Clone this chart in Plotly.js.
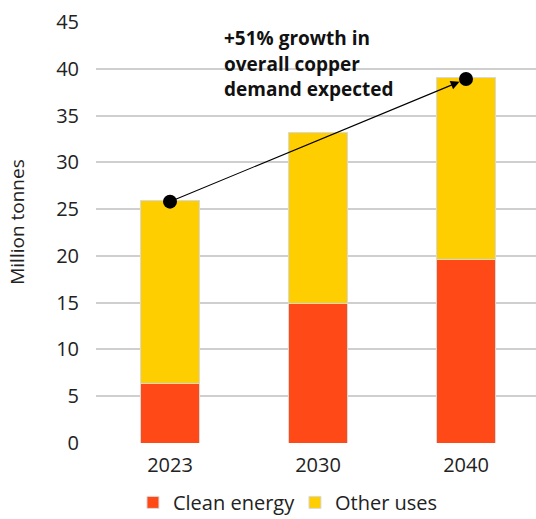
<!DOCTYPE html>
<html>
<head>
<meta charset="utf-8">
<script src="https://cdn.plot.ly/plotly-3.0.1.min.js"></script>
<style>html,body{margin:0;padding:0;background:#fff;}#chart{width:536px;height:519px;}</style>
</head>
<body>
<div id="chart"></div>
<script>
const categories = ["2023", "2030", "2040"];
const cleanEnergy = [6.4, 14.9, 19.6];
const otherUses = [19.5, 18.3, 19.5];
const growthPoints = ["2023", "2040"];
const growthValues = [25.8, 38.9];
const annotationLines = ["+51% growth in", "overall copper", "demand expected"];
const yTicks = [0, 5, 10, 15, 20, 25, 30, 35, 40, 45];
const yTitle = "Million tonnes";

const FONT = "Open Sans, sans-serif";
const ORANGE = "#FF4A17";
const YELLOW = "#FFCE00";

const traces = [
  {
    type: "bar", name: "Clean energy", x: categories, y: cleanEnergy,
    marker: {color: ORANGE, line: {color: "#d9d9d9", width: 1}},
    hoverinfo: "skip"
  },
  {
    type: "bar", name: "Other uses", x: categories, y: otherUses,
    marker: {color: YELLOW, line: {color: "#d9d9d9", width: 1}},
    hoverinfo: "skip"
  },
  {
    type: "scatter", mode: "markers", x: growthPoints, y: growthValues,
    marker: {color: "#000", size: 14}, showlegend: false, hoverinfo: "skip", cliponaxis: false
  }
];

const annotations = [
  {
    x: categories.indexOf(growthPoints[1]), y: growthValues[1], xref: "x", yref: "y",
    ax: categories.indexOf(growthPoints[0]), ay: growthValues[0], axref: "x", ayref: "y",
    showarrow: true, arrowhead: 2, arrowsize: 1.6, arrowwidth: 1.1, arrowcolor: "#000",
    standoff: 7, startstandoff: 0, text: ""
  },
  {
    x: -0.18, y: 0.525, xref: "paper", yref: "paper", xanchor: "center", yanchor: "middle",
    text: yTitle, textangle: -90, showarrow: false,
    font: {family: FONT, size: 19, color: "#222"}
  }
];
const lineY = [43.3, 40.5, 37.8];
annotationLines.forEach((t, i) => {
  annotations.push({
    x: 0.35, y: lineY[i], xref: "x", yref: "y", xanchor: "left", yanchor: "middle",
    text: "<b>" + t + "</b>", showarrow: false,
    font: {family: FONT, size: 19, color: "#111"}
  });
});

const layout = {
  width: 536, height: 519,
  margin: {l: 96, r: 0, t: 22, b: 76, pad: 0},
  paper_bgcolor: "#fff", plot_bgcolor: "#fff",
  barmode: "stack", bargap: 0.6,
  font: {family: FONT, size: 20, color: "#222"},
  xaxis: {
    type: "category", range: [-0.5, 2.473], showgrid: false, zeroline: false,
    showline: false, ticks: "", ticklabelstandoff: 8, automargin: false,
    tickfont: {family: FONT, size: 20, color: "#222"}
  },
  yaxis: {
    range: [0, 45], tickvals: yTicks, showgrid: true, gridcolor: "#cfcfcf", gridwidth: 2,
    zeroline: false, showline: false, ticks: "", ticklabelstandoff: 16, automargin: false,
    tickfont: {family: FONT, size: 20, color: "#222"}
  },
  legend: {
    orientation: "h", x: 0.084, xanchor: "left", yref: "container", y: 0.032, yanchor: "middle",
    font: {family: FONT, size: 20, color: "#222"}, traceorder: "normal",
    entrywidth: 117, itemclick: false, itemdoubleclick: false
  },
  annotations: annotations,
  showlegend: true
};

Plotly.newPlot("chart", traces, layout, {displayModeBar: false, staticPlot: true});
</script>
</body>
</html>
